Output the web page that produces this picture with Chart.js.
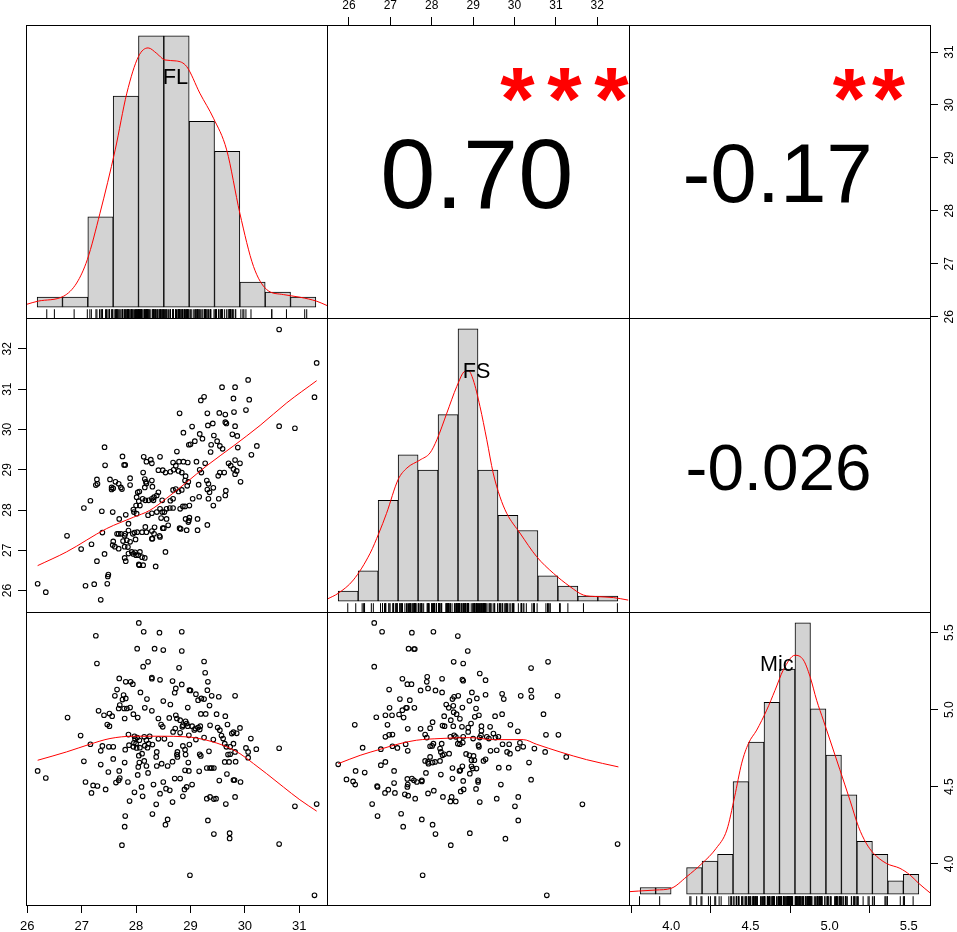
<!DOCTYPE html>
<html>
<head>
<meta charset="utf-8">
<title>FL / FS / Mic</title>
<script src="https://cdn.jsdelivr.net/npm/chart.js"></script>
<style>
  body { margin: 0; background: #fff; }
  #wrap { position: relative; width: 957px; height: 932px; }
  #wrap canvas { position: absolute; left: 0; top: 0; }
</style>
</head>
<body>
<div id="wrap"></div>
<script>
// variable names and correlation texts
const varNames = ['FL', 'FS', 'Mic'];
const corValues = ['0.70', '-0.17', '-0.026'];
const corStars = ['***', '**', ''];

// axis ranges and ticks
const flRange = [25.976, 31.51];
const fsRange = [25.469, 32.766];
const micRange = [3.733, 5.634];
const flTicks = [26, 27, 28, 29, 30, 31];
const flTickLabels = ['26', '27', '28', '29', '30', '31'];
const fsTicks = [26, 27, 28, 29, 30, 31, 32];
const fsTickLabels = ['26', '27', '28', '29', '30', '31', '32'];
const micTicks = [4, 4.5, 5, 5.5];
const micTickLabels = ['4.0', '4.5', '5.0', '5.5'];

// histograms (bin edges, counts) and density curves (in count units)
const flBreaks = [26, 26.5, 27, 27.5, 28, 28.5, 29, 29.5, 30, 30.5, 31, 31.5];
const flCounts = [2, 2, 18, 42, 54, 54, 37, 31, 5, 3, 2];
const flDens = [[25.78,0.52],[26.02,1.2],[26.52,2.17],[26.78,4.8],[26.99,9.46],[27.24,18.7],[27.54,31.3],[27.77,42.6],[28.00,49.9],[28.19,51.6],[28.36,50.5],[28.52,49.2],[28.75,49.0],[28.95,47.9],[29.21,42.6],[29.48,37.6],[29.74,31.3],[30.00,18.7],[30.27,8.1],[30.53,3.5],[30.86,2.5],[31.19,1.97],[31.52,1.17],[31.72,0.32]];

const fsBreaks = [25.5, 26, 26.5, 27, 27.5, 28, 28.5, 29, 29.5, 30, 30.5, 31, 31.5, 32, 32.5];
const fsCounts = [2, 6, 20, 29, 26, 37, 54, 26, 17, 14, 5, 3, 1, 1];
const fsDens = [[25.23,0.42],[25.50,1.55],[25.88,4.19],[26.30,9.5],[26.52,13.5],[26.71,17.4],[27.00,24.1],[27.22,26.4],[27.55,28.0],[27.80,29.4],[27.97,32.0],[28.22,37.3],[28.47,42.6],[28.67,45.6],[28.76,45.7],[28.88,43.9],[29.05,38.6],[29.22,32.0],[29.38,25.4],[29.55,20.7],[29.72,17.4],[30.05,13.5],[30.47,8.8],[30.89,5.5],[31.30,2.9],[31.64,1.2],[31.97,0.9],[32.39,0.7],[32.76,0.2]];

const micBreaks = [3.8, 3.9, 4.0, 4.1, 4.2, 4.3, 4.4, 4.5, 4.6, 4.7, 4.8, 4.9, 5.0, 5.1, 5.2, 5.3, 5.4, 5.5, 5.6];
const micCounts = [1, 1, 0, 4, 5, 6, 17, 23, 29, 34, 41, 28, 21, 15, 8, 6, 2, 3];
const micDens = [[3.72,0.36],[3.79,0.47],[3.90,0.62],[4.00,0.88],[4.10,2.63],[4.20,4.65],[4.29,6.9],[4.36,9.7],[4.41,14.7],[4.456,19.8],[4.50,22.8],[4.553,24.8],[4.617,27.8],[4.671,30.8],[4.725,33.9],[4.80,36.1],[4.854,35.4],[4.897,32.9],[4.94,29.3],[4.983,26.3],[5.026,23.3],[5.09,18.8],[5.155,14.2],[5.21,10.2],[5.26,7.7],[5.306,6.2],[5.39,4.65],[5.478,3.9],[5.543,2.9],[5.596,1.7],[5.672,0.2]];

// scatter points [x, y]
const ptsFlFs = [[30.63,32.48],[31.32,31.65],[31.28,30.80],[30.63,30.08],[30.92,30.03],[30.06,31.23],[30.08,30.74],[30.02,30.48],[29.82,31.05],[29.58,31.05],[29.79,30.77],[29.25,30.81],[29.19,30.72],[29.53,30.41],[29.64,30.37],[29.80,30.43],[29.31,30.40],[28.80,30.40],[29.66,30.15],[29.64,30.18],[29.82,30.08],[29.32,30.10],[29.41,30.15],[29.03,30.07],[28.87,29.92],[29.17,29.89],[29.22,29.77],[29.43,29.85],[29.49,29.71],[29.38,29.62],[29.08,29.71],[29.00,29.63],[28.97,29.62],[29.54,29.59],[29.86,29.84],[29.77,29.88],[29.87,29.55],[30.22,29.59],[30.12,29.37],[29.59,29.52],[29.37,29.44],[27.42,29.56],[28.75,29.45],[27.75,29.33],[27.80,29.12],[27.78,29.12],[27.43,29.11],[28.14,29.32],[28.44,29.32],[28.19,29.20],[28.27,29.25],[28.29,29.16],[28.68,29.18],[28.79,29.20],[28.87,29.20],[28.95,29.18],[29.11,29.20],[29.27,29.16],[29.70,29.16],[29.82,29.24],[29.91,29.16],[29.74,29.10],[29.79,29.02],[29.85,28.97],[29.82,28.89],[29.92,28.70],[29.62,28.93],[29.51,28.85],[29.54,28.93],[29.65,28.48],[29.64,28.36],[29.52,28.28],[29.42,28.11],[29.33,28.28],[29.35,28.44],[29.31,28.51],[29.42,28.55],[29.33,28.65],[29.30,28.73],[29.20,28.93],[29.17,29.00],[29.15,28.63],[29.16,28.33],[29.04,28.28],[28.98,28.11],[29.13,27.78],[29.13,27.50],[29.31,27.63],[28.97,27.74],[28.98,27.81],[28.93,27.50],[28.82,27.53],[28.80,27.55],[28.41,28.99],[28.49,28.99],[28.54,28.93],[28.63,28.95],[28.69,29.00],[28.73,29.10],[28.78,28.97],[28.84,28.93],[28.91,28.84],[28.96,28.70],[28.94,28.60],[28.90,28.73],[28.84,28.50],[28.78,28.46],[28.73,28.52],[28.68,28.50],[28.68,28.28],[28.63,28.23],[28.48,28.24],[28.41,28.44],[28.38,28.36],[28.33,28.32],[28.29,28.28],[28.23,28.24],[28.30,28.58],[28.29,28.73],[28.18,28.70],[28.13,28.93],[28.16,28.77],[28.19,28.66],[28.16,28.56],[28.06,28.46],[28.03,28.44],[28.01,28.32],[28.07,28.11],[28.12,28.28],[28.17,28.24],[28.32,28.24],[27.28,28.76],[27.29,28.65],[27.26,28.62],[27.52,28.76],[27.55,28.56],[27.58,28.54],[27.62,28.70],[27.68,28.65],[27.72,28.56],[27.74,28.52],[27.89,28.79],[27.89,28.62],[27.55,28.51],[27.16,28.23],[27.04,28.05],[27.37,27.97],[27.57,27.95],[27.69,27.78],[27.81,27.88],[27.86,27.66],[27.95,28.01],[27.96,27.95],[28.00,28.11],[28.05,28.22],[28.01,27.91],[28.22,27.87],[28.29,27.92],[28.38,27.95],[28.44,28.03],[28.48,27.95],[28.52,27.95],[28.56,28.03],[28.62,28.05],[28.68,28.05],[28.46,27.80],[28.56,27.78],[28.59,27.62],[28.49,27.55],[28.34,27.57],[28.29,27.48],[28.43,27.36],[28.51,27.55],[28.81,28.03],[28.86,28.09],[28.90,28.09],[28.91,27.78],[28.96,27.70],[26.73,27.36],[27.38,27.44],[26.99,27.03],[27.18,27.15],[27.42,26.91],[27.28,26.73],[27.58,27.22],[27.65,27.41],[27.68,27.41],[27.72,27.41],[27.79,27.36],[27.80,27.41],[27.86,27.49],[27.94,27.41],[27.97,27.44],[28.02,27.45],[27.99,27.27],[28.11,27.45],[28.17,27.58],[28.19,27.45],[28.29,27.29],[28.30,27.29],[28.33,27.41],[28.44,27.33],[27.57,27.13],[27.61,27.09],[27.68,27.04],[27.76,27.23],[27.83,27.25],[27.89,27.21],[27.79,27.09],[27.86,26.92],[27.85,27.08],[27.92,26.96],[27.95,26.91],[27.98,26.95],[28.00,26.88],[28.04,26.88],[28.07,26.96],[28.11,26.83],[28.16,26.81],[27.79,26.81],[27.81,26.73],[28.05,26.65],[28.06,26.63],[28.13,26.63],[28.54,26.96],[28.36,26.60],[27.49,26.40],[27.48,26.35],[27.47,26.17],[27.23,26.16],[27.07,26.12],[27.35,25.77],[26.19,26.17],[26.34,25.96]];

const ptsFlMic = [[28.05,5.563],[28.14,5.506],[28.43,5.500],[28.84,5.506],[27.26,5.480],[28.02,5.396],[28.34,5.396],[28.50,5.387],[28.84,5.381],[27.28,5.300],[28.13,5.279],[28.22,5.311],[28.79,5.272],[29.25,5.313],[29.27,5.240],[29.32,5.181],[27.69,5.203],[27.81,5.181],[27.90,5.181],[27.94,5.166],[28.29,5.209],[28.29,5.201],[28.44,5.194],[28.67,5.186],[28.84,5.164],[27.65,5.131],[27.61,5.090],[27.77,5.095],[27.75,5.066],[27.81,5.073],[28.08,5.112],[28.20,5.069],[28.73,5.138],[28.71,5.110],[28.98,5.127],[29.00,5.125],[29.10,5.101],[29.31,5.127],[29.39,5.090],[29.52,5.084],[29.82,5.090],[29.20,5.073],[29.25,5.069],[29.14,5.062],[29.35,5.027],[27.31,4.993],[27.41,4.964],[27.51,4.975],[27.56,4.958],[27.47,4.904],[27.51,4.893],[27.70,5.030],[27.68,5.008],[27.78,5.008],[27.83,5.008],[27.89,5.014],[27.79,4.943],[27.95,4.971],[28.03,4.949],[28.16,5.012],[28.29,4.993],[28.50,5.056],[28.63,5.034],[28.95,5.014],[28.41,4.943],[28.46,4.904],[28.49,4.889],[28.61,4.947],[28.73,4.964],[28.75,4.943],[28.81,4.932],[28.86,4.899],[28.91,4.925],[28.93,4.910],[28.95,4.893],[29.03,4.893],[29.07,4.869],[29.14,4.884],[29.18,4.893],[29.19,4.973],[29.28,4.973],[29.36,4.899],[29.48,4.971],[29.50,4.884],[29.54,4.867],[29.64,4.958],[29.68,4.904],[29.76,4.845],[29.79,4.854],[29.85,4.847],[29.91,4.882],[26.74,4.949],[26.98,4.832],[27.16,4.776],[27.86,4.839],[27.97,4.828],[27.98,4.811],[28.02,4.819],[28.06,4.802],[28.15,4.824],[28.19,4.802],[28.23,4.780],[28.25,4.828],[28.30,4.774],[28.41,4.811],[28.52,4.811],[28.63,4.776],[28.68,4.856],[28.72,4.878],[28.81,4.850],[28.85,4.889],[28.97,4.834],[28.98,4.774],[29.09,4.878],[29.10,4.806],[29.17,4.871],[29.25,4.819],[29.42,4.806],[29.57,4.832],[29.60,4.813],[29.63,4.780],[29.66,4.759],[29.73,4.759],[29.79,4.780],[29.73,4.711],[29.82,4.726],[30.02,4.752],[30.06,4.726],[30.11,4.813],[30.21,4.744],[30.63,4.750],[27.38,4.765],[27.35,4.733],[27.50,4.759],[27.58,4.759],[27.80,4.741],[27.87,4.770],[27.95,4.759],[28.00,4.780],[27.96,4.785],[28.01,4.752],[28.07,4.754],[28.16,4.767],[28.21,4.754],[28.38,4.726],[28.11,4.715],[28.05,4.702],[28.06,4.657],[28.15,4.668],[28.19,4.635],[28.37,4.694],[28.47,4.650],[28.58,4.635],[28.67,4.663],[28.76,4.726],[28.75,4.709],[28.76,4.694],[28.91,4.709],[28.90,4.741],[28.86,4.765],[29.17,4.711],[29.19,4.700],[29.34,4.730],[28.96,4.657],[28.97,4.603],[28.90,4.607],[29.16,4.600],[29.30,4.622],[29.36,4.622],[29.39,4.622],[29.43,4.622],[29.63,4.661],[29.71,4.661],[29.83,4.663],[29.67,4.583],[29.79,4.544],[29.81,4.544],[29.92,4.531],[29.69,4.709],[30.06,4.689],[27.04,4.665],[27.35,4.644],[27.58,4.681],[27.79,4.657],[27.49,4.596],[27.69,4.603],[27.70,4.557],[27.68,4.542],[27.63,4.527],[27.85,4.531],[28.03,4.577],[28.22,4.590],[28.04,4.629],[28.38,4.635],[28.50,4.531],[28.55,4.488],[28.62,4.477],[28.71,4.553],[28.81,4.553],[28.89,4.483],[28.93,4.499],[29.03,4.514],[29.53,4.540],[28.86,4.438],[28.67,4.401],[28.44,4.455],[28.32,4.514],[28.10,4.499],[28.12,4.438],[27.97,4.464],[27.88,4.407],[27.07,4.531],[27.18,4.460],[27.21,4.509],[27.29,4.505],[27.44,4.483],[27.80,4.310],[27.79,4.241],[27.74,4.121],[28.30,4.323],[28.37,4.386],[28.58,4.288],[28.54,4.254],[29.30,4.423],[29.36,4.434],[29.43,4.420],[29.47,4.423],[29.65,4.388],[29.82,4.434],[29.32,4.282],[29.43,4.193],[29.72,4.199],[29.72,4.165],[30.63,4.128],[30.92,4.373],[31.32,4.388],[28.99,3.926],[31.28,3.796],[26.19,4.603],[26.34,4.557]];

const ptsFsMic = [[26.61,5.563],[26.80,5.506],[27.52,5.500],[28.04,5.506],[28.63,5.478],[27.44,5.396],[27.57,5.394],[27.59,5.394],[28.87,5.381],[26.61,5.279],[28.53,5.311],[28.76,5.300],[30.40,5.270],[30.81,5.311],[27.29,5.201],[27.41,5.166],[27.51,5.166],[27.89,5.214],[27.88,5.181],[28.25,5.201],[28.74,5.196],[28.76,5.188],[29.16,5.235],[29.30,5.192],[26.97,5.131],[27.73,5.125],[27.91,5.138],[28.09,5.125],[28.25,5.112],[28.97,5.112],[29.09,5.073],[29.30,5.097],[29.70,5.103],[29.74,5.069],[30.15,5.090],[30.40,5.125],[30.41,5.082],[31.04,5.090],[27.23,5.069],[26.98,5.012],[27.47,5.062],[27.38,5.012],[27.40,5.012],[27.58,5.012],[27.29,4.997],[27.21,4.969],[27.32,4.949],[27.04,4.964],[26.88,4.964],[26.66,4.951],[26.14,4.902],[26.93,4.902],[27.42,4.876],[27.73,4.876],[27.96,4.880],[28.02,4.919],[28.30,4.958],[28.35,5.034],[28.41,5.012],[28.50,5.069],[28.54,5.084],[28.64,5.090],[28.74,5.014],[28.91,5.058],[29.07,5.008],[29.14,4.964],[28.53,4.984],[28.60,4.971],[28.52,5.025],[28.68,4.941],[28.46,4.932],[28.52,4.893],[28.26,4.897],[28.31,4.893],[28.73,4.889],[28.88,4.884],[28.95,4.910],[29.20,4.893],[29.41,4.889],[29.53,4.958],[29.70,4.971],[29.90,4.902],[30.08,4.860],[30.70,4.971],[30.76,4.837],[31.06,4.837],[29.19,4.834],[29.04,4.954],[28.88,4.856],[29.20,4.863],[26.88,4.824],[26.97,4.837],[27.05,4.839],[26.33,4.754],[26.77,4.744],[27.05,4.763],[27.17,4.752],[27.37,4.776],[27.42,4.733],[27.84,4.839],[27.88,4.819],[27.96,4.763],[28.01,4.765],[28.04,4.780],[28.24,4.780],[28.20,4.748],[28.22,4.726],[28.26,4.704],[28.30,4.711],[28.42,4.715],[28.45,4.824],[28.54,4.834],[28.58,4.824],[28.63,4.780],[28.68,4.776],[28.75,4.787],[28.67,4.806],[28.76,4.824],[29.00,4.813],[29.13,4.770],[29.14,4.759],[29.16,4.819],[29.33,4.824],[29.38,4.813],[29.49,4.845],[29.54,4.819],[29.61,4.824],[29.57,4.737],[29.42,4.733],[29.25,4.668],[29.30,4.678],[28.83,4.713],[28.91,4.704],[29.01,4.700],[28.96,4.672],[29.03,4.672],[28.96,4.633],[29.08,4.618],[29.71,4.776],[29.87,4.776],[29.82,4.726],[29.89,4.715],[30.13,4.785],[30.08,4.748],[30.21,4.759],[30.48,4.748],[30.74,4.726],[31.25,4.694],[25.74,4.646],[26.16,4.603],[26.38,4.592],[26.88,4.661],[26.77,4.640],[27.09,4.603],[27.41,4.551],[27.52,4.553],[27.57,4.542],[27.64,4.531],[27.76,4.542],[27.86,4.590],[27.91,4.661],[28.08,4.661],[28.20,4.668],[28.22,4.579],[28.50,4.553],[28.67,4.603],[28.69,4.607],[28.74,4.633],[28.50,4.622],[28.76,4.538],[28.77,4.483],[28.70,4.470],[28.02,4.657],[27.92,4.650],[27.84,4.668],[27.96,4.694],[29.62,4.624],[29.86,4.624],[30.35,4.657],[30.40,4.546],[29.67,4.514],[29.12,4.542],[29.12,4.531],[29.07,4.486],[29.16,4.401],[29.57,4.423],[28.92,4.585],[28.99,4.618],[25.94,4.548],[26.10,4.535],[26.15,4.514],[26.68,4.505],[26.69,4.499],[26.87,4.460],[26.95,4.481],[27.09,4.524],[27.11,4.460],[27.35,4.451],[27.42,4.514],[27.43,4.442],[27.60,4.423],[27.41,4.499],[27.76,4.535],[27.91,4.457],[28.05,4.475],[28.27,4.434],[28.45,4.405],[28.48,4.434],[28.58,4.405],[26.56,4.388],[26.69,4.310],[27.26,4.325],[27.31,4.241],[27.76,4.288],[28.02,4.254],[28.09,4.193],[28.46,4.121],[28.92,4.199],[29.78,4.163],[30.01,4.373],[30.09,4.434],[30.09,4.282],[31.64,4.386],[32.49,4.128],[27.78,3.926],[30.78,3.796]];

// smoothed (lowess) lines [x, y]
const smFlFs = [[26.19,26.62],[26.72,26.96],[27.46,27.54],[27.95,27.82],[28.25,27.99],[28.56,28.29],[28.93,28.69],[29.30,29.10],[29.79,29.59],[30.28,30.10],[30.77,30.66],[31.32,31.21]];
const smFlMic = [[26.19,4.672],[26.72,4.726],[27.15,4.776],[27.52,4.813],[27.95,4.828],[28.44,4.828],[28.93,4.824],[29.30,4.802],[29.67,4.759],[29.91,4.715],[30.16,4.650],[30.40,4.585],[30.71,4.498],[31.01,4.416],[31.32,4.342]];
const smFsMic = [[25.74,4.650],[26.27,4.704],[26.75,4.743],[27.23,4.780],[27.63,4.802],[28.20,4.813],[28.92,4.819],[29.49,4.806],[30.21,4.806],[30.53,4.776],[31.10,4.726],[31.74,4.676],[32.51,4.629]];

// ---- layout ----
const FONT = '"Liberation Sans", Arial, sans-serif';
Chart.defaults.font.family = FONT;
Chart.defaults.color = '#000';

const W = 957, H = 932;
const colX = [26, 327, 629, 930];
const rowY = [25, 318, 612, 905];
const wrap = document.getElementById('wrap');

function hidden(range) {
  return { type: 'linear', display: false, min: range[0], max: range[1], offset: false };
}

// axis with ticks outside the panel; size = room between panel and page edge
function shown(range, pos, ticks, labels, size, fontSize, pad, visible) {
  const horiz = pos === 'top' || pos === 'bottom';
  return {
    type: 'linear', position: pos, min: range[0], max: range[1], offset: false,
    afterBuildTicks: s => { s.ticks = ticks.map(v => ({ value: v })); },
    afterFit: s => { if (horiz) s.height = size; else s.width = size; },
    grid: { drawOnChartArea: false, drawTicks: true, tickLength: 8, color: '#000', tickColor: '#000', tickWidth: 1 },
    border: { display: true, color: '#000', width: 1 },
    ticks: {
      autoSkip: false, maxRotation: 0, minRotation: 0, padding: pad,
      color: visible ? '#000' : 'rgba(0,0,0,0)',
      font: { size: fontSize, lineHeight: 1 },
      callback: (v, i) => labels[i]
    }
  };
}

function histRange(b) {
  const d = b[b.length - 1] - b[0];
  return [b[0] - 0.04 * d, b[b.length - 1] + 0.04 * d];
}
function countRange(c) {
  const m = Math.max(...c);
  return [-0.04 * m, 1.04 * m];
}

// frame round each panel
const boxPlugin = {
  id: 'box',
  afterDraw(chart) {
    const a = chart.chartArea, ctx = chart.ctx;
    ctx.save();
    ctx.strokeStyle = '#000';
    ctx.lineWidth = 1;
    const l = Math.round(a.left), t = Math.round(a.top);
    ctx.strokeRect(l + 0.5, t + 0.5, Math.round(a.right) - l, Math.round(a.bottom) - t);
    ctx.restore();
  }
};

// texts inside a panel: fx/fy = centre of the ink as part of the panel,
// w/h = ink size in px, gap = distance between single characters (for the stars)
function textPlugin(items) {
  function put(ctx, txt, cx, cy, w, h, weight) {
    const f = (weight || '') + ' ';
    ctx.font = f + '100px ' + FONT;
    let m = ctx.measureText(txt);
    const sh = 100 * h / (m.actualBoundingBoxAscent + m.actualBoundingBoxDescent);
    const sw = 100 * w / (m.actualBoundingBoxRight + m.actualBoundingBoxLeft);
    const size = (sh + sw) / 2;
    ctx.font = f + size + 'px ' + FONT;
    m = ctx.measureText(txt);
    const x = cx - (m.actualBoundingBoxRight - m.actualBoundingBoxLeft) / 2;
    const y = cy + (m.actualBoundingBoxAscent - m.actualBoundingBoxDescent) / 2;
    ctx.fillText(txt, x, y);
  }
  return {
    id: 'panelText',
    afterDatasetsDraw(chart) {
      const a = chart.chartArea, ctx = chart.ctx;
      ctx.save();
      ctx.beginPath();
      ctx.rect(a.left, a.top, a.right - a.left, a.bottom - a.top);
      ctx.clip();
      ctx.textAlign = 'center';
      ctx.textBaseline = 'alphabetic';
      items.forEach(it => {
        ctx.fillStyle = it.color || '#000';
        const cx = a.left + it.fx * (a.right - a.left);
        const cy = a.top + it.fy * (a.bottom - a.top);
        if (it.gap) {
          const chars = it.text.split('');
          chars.forEach((ch, i) => put(ctx, ch, cx + (i - (chars.length - 1) / 2) * it.gap, cy, it.w, it.h, it.weight));
        } else {
          put(ctx, it.text, cx, cy, it.w, it.h, it.weight);
        }
      });
      ctx.restore();
    }
  };
}

// tick labels turned 90 degrees for the side axes
function rotPlugin(list) {
  return {
    id: 'rotLabels',
    afterDraw(chart) {
      const ctx = chart.ctx;
      list.forEach(d => {
        const s = chart.scales[d.id];
        s.ticks.forEach(t => {
          const y = s.getPixelForValue(t.value);
          const x = s.position === 'left' ? s.right - d.off : s.left + d.off;
          ctx.save();
          ctx.translate(x, y);
          ctx.rotate(-Math.PI / 2);
          ctx.font = d.size + 'px ' + FONT;
          ctx.fillStyle = '#000';
          ctx.textAlign = 'center';
          ctx.textBaseline = 'middle';
          ctx.fillText(t.label, 0, 0);
          ctx.restore();
        });
      });
    }
  };
}

function makePanel(r, c, sides, type, datasets, scales, items, rot) {
  const cv = document.createElement('canvas');
  cv.width = W;
  cv.height = H;
  wrap.appendChild(cv);
  return new Chart(cv, {
    type: type,
    data: { datasets: datasets },
    options: {
      responsive: false,
      animation: false,
      events: [],
      layout: {
        padding: {
          left: sides.includes('left') ? 0 : colX[c],
          right: sides.includes('right') ? 0 : W - colX[c + 1],
          top: sides.includes('top') ? 0 : rowY[r],
          bottom: sides.includes('bottom') ? 0 : H - rowY[r + 1]
        }
      },
      scales: scales,
      plugins: { legend: { display: false }, tooltip: { enabled: false } }
    },
    plugins: [boxPlugin, textPlugin(items || []), rotPlugin(rot || [])]
  });
}

function histSets(breaks, counts, dens, rug) {
  return [
    {
      type: 'line', order: 0, xAxisID: 'x', yAxisID: 'y',
      data: dens.map(p => ({ x: p[0], y: p[1] })),
      borderColor: '#ff0000', borderWidth: 1, pointRadius: 0,
      cubicInterpolationMode: 'monotone'
    },
    {
      type: 'scatter', order: 1, xAxisID: 'x', yAxisID: 'yr',
      data: rug.map(v => ({ x: v, y: 0.015 })),
      pointStyle: 'line', pointRadius: 4.4, pointRotation: 90,
      borderColor: '#000', pointBorderColor: '#000', pointBorderWidth: 1
    },
    {
      type: 'bar', order: 2, xAxisID: 'x', yAxisID: 'y',
      data: counts.map((v, i) => ({ x: (breaks[i] + breaks[i + 1]) / 2, y: v })),
      backgroundColor: '#d3d3d3', borderColor: '#000', borderWidth: 1,
      borderSkipped: false, barPercentage: 1, categoryPercentage: 1
    }
  ];
}

function histScales(breaks, counts) {
  return { x: hidden(histRange(breaks)), y: hidden(countRange(counts)), yr: hidden([0, 1]) };
}

function scatterSets(pts, sm) {
  return [
    {
      type: 'line', order: 0, data: sm.map(p => ({ x: p[0], y: p[1] })),
      borderColor: '#ff0000', borderWidth: 1, pointRadius: 0,
      cubicInterpolationMode: 'monotone'
    },
    {
      type: 'scatter', order: 1, data: pts.map(p => ({ x: p[0], y: p[1] })),
      pointRadius: 2.3, pointBorderWidth: 1.1, borderColor: '#000',
      pointBorderColor: '#000', backgroundColor: 'rgba(0,0,0,0)', pointBackgroundColor: 'rgba(0,0,0,0)'
    }
  ];
}

const red = '#ff0000';

// row 1
makePanel(0, 0, [], 'bar', histSets(flBreaks, flCounts, flDens, ptsFlFs.map(p => p[0])),
  histScales(flBreaks, flCounts), [{ text: varNames[0], fx: 0.498, fy: 0.175, w: 24.3, h: 14.3 }]);

makePanel(0, 1, ['top'], 'scatter', [],
  { x: shown(fsRange, 'top', fsTicks, fsTickLabels, rowY[0], 12, 5, true), y: hidden([0, 1]) },
  [{ text: corValues[0], fx: 0.496, fy: 0.507, w: 183.3, h: 71.6 },
   { text: corStars[0], fx: 0.787, fy: 0.204, w: 34, h: 34, gap: 47, color: red, weight: 'bold' }]);

makePanel(0, 2, ['right'], 'scatter', [],
  { x: hidden([0, 1]), y: shown(flRange, 'right', flTicks, flTickLabels, W - colX[3], 12, 0, false) },
  [{ text: corValues[1], fx: 0.493, fy: 0.507, w: 179, h: 60.7 },
   { text: corStars[1], fx: 0.797, fy: 0.205, w: 33.9, h: 31.4, gap: 39.4, color: red, weight: 'bold' }],
  [{ id: 'y', off: 20, size: 12 }]);

// row 2
makePanel(1, 0, ['left'], 'scatter', scatterSets(ptsFlFs, smFlFs),
  { x: hidden(flRange), y: shown(fsRange, 'left', fsTicks, fsTickLabels, colX[0], 12, 0, false) },
  [], [{ id: 'y', off: 18, size: 12 }]);

makePanel(1, 1, [], 'bar', histSets(fsBreaks, fsCounts, fsDens, ptsFsMic.map(p => p[0])),
  histScales(fsBreaks, fsCounts), [{ text: varNames[1], fx: 0.496, fy: 0.177, w: 26.7, h: 14.6 }]);

makePanel(1, 2, [], 'scatter', [], { x: hidden([0, 1]), y: hidden([0, 1]) },
  [{ text: corValues[2], fx: 0.496, fy: 0.507, w: 183.3, h: 46 }]);

// row 3
makePanel(2, 0, ['bottom'], 'scatter', scatterSets(ptsFlMic, smFlMic),
  { x: shown(flRange, 'bottom', flTicks, flTickLabels, H - rowY[3], 13, 7, true), y: hidden(micRange) });

makePanel(2, 1, [], 'scatter', scatterSets(ptsFsMic, smFsMic),
  { x: hidden(fsRange), y: hidden(micRange) });

const micScales = histScales(micBreaks, micCounts);
micScales.xa = shown(micRange, 'bottom', micTicks, micTickLabels, H - rowY[3], 13, 7, true);
micScales.ya = shown(micRange, 'right', micTicks, micTickLabels, W - colX[3], 12, 0, false);
makePanel(2, 2, ['bottom', 'right'], 'bar', histSets(micBreaks, micCounts, micDens, ptsFlMic.map(p => p[1])),
  micScales, [{ text: varNames[2], fx: 0.493, fy: 0.175, w: 33.3, h: 15 }],
  [{ id: 'ya', off: 20, size: 12 }]);
</script>
</body>
</html>
